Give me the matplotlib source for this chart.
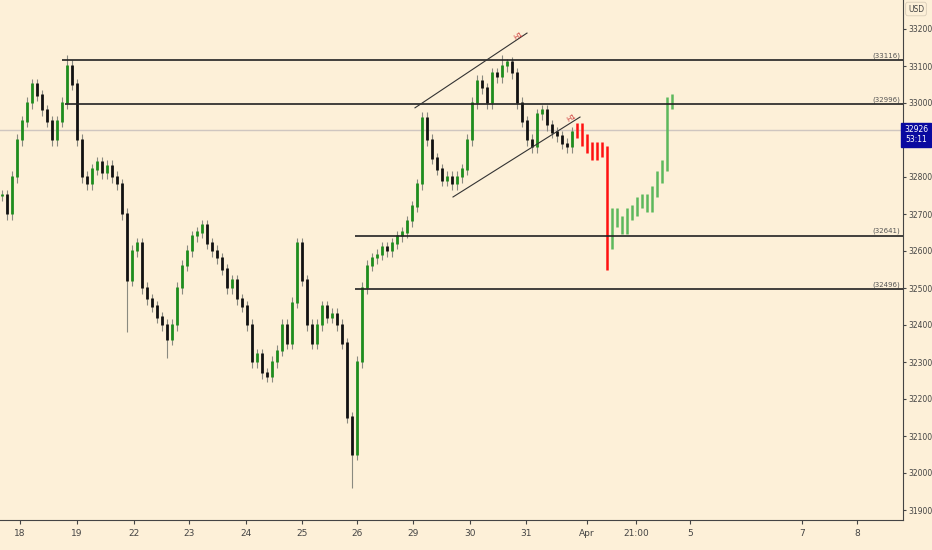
import numpy as np
import matplotlib
matplotlib.use("Agg")
import matplotlib.pyplot as plt

# ---------------------------
# Data
# ---------------------------
# candle closes, one every 5 px of chart width
closes_main = [32750, 32700, 32800, 32900, 32950, 33000, 33050, 33020, 32980, 32950,
               32900, 32950, 33000, 33100, 33050, 32900, 32800, 32780, 32820, 32840,
               32810, 32830, 32800, 32780, 32700, 32520, 32600, 32620, 32500, 32470,
               32450, 32420, 32400, 32360, 32400, 32500, 32560, 32600, 32640, 32650,
               32670, 32620, 32600, 32580, 32550, 32500, 32520, 32470, 32450, 32400,
               32300, 32320, 32270, 32260, 32300, 32330, 32400, 32350, 32460, 32620,
               32520, 32400, 32350, 32400, 32450, 32420, 32430, 32400, 32350, 32150,
               32050, 32300, 32500, 32560, 32580, 32590, 32610, 32600, 32620, 32640,
               32650, 32680, 32720, 32780, 32960, 32900, 32850, 32820, 32790, 32800,
               32780, 32800, 32820, 32900, 33000, 33060, 33040, 33000, 33080, 33070,
               33100, 33110, 33080, 33000, 32950, 32900, 32880, 32970, 32980, 32940,
               32920, 32910, 32890, 32880, 32920]
closes_red = [32930, 32900, 32880, 32860, 32880, 32870, 32620]
closes_green = [32700, 32680, 32660, 32700, 32710, 32730, 32740, 32720, 32760,
                32800, 32830, 33000, 33010]
spike_high = {13: 33130, 100: 33130, 101: 33120}
spike_low = {70: 31960, 25: 32380, 33: 32310}
red_low = 32550

levels = [33116, 32996, 32641, 32496]
level_start = [62, 65, 355, 355]
last_price = 32926
yticks = list(range(31900, 33201, 100))
xtick_pos = [20, 77, 134, 189, 246, 302, 357, 413, 470, 526, 587, 636, 690, 802, 857]
xtick_lab = ["18", "19", "22", "23", "24", "25", "26", "29", "30", "31", "Apr",
             "21:00", "5", "7", "8"]

BG = "#fdf0d8"
fig = plt.figure(figsize=(9.32, 5.5), dpi=100, facecolor=BG)
ax = fig.add_axes([0, 30 / 550, 903 / 932, 520 / 550], facecolor=BG)
ax.set_xlim(0, 903)
ax.set_ylim(33200 - 491 / 0.37, 33200 + 29 / 0.37)

allc = closes_main + closes_red + closes_green
x = np.arange(len(allc)) * 5 + 2
prev = allc[0]
nm, nr = len(closes_main), len(closes_red)
for i, c in enumerate(allc):
    o = prev
    hi = spike_high.get(i, max(o, c) + 15)
    lo = spike_low.get(i, min(o, c) - 15)
    if i < nm:
        ax.vlines(x[i], lo, hi, color="#8a8a80", lw=0.8, zorder=2)
        ax.vlines(x[i], min(o, c), max(o, c) + 3, color="#1e8c1e" if c >= o else "#111111",
                  lw=2.0, zorder=3)
    elif i < nm + nr:
        if i == nm + nr - 1:
            lo = red_low
        ax.vlines(x[i], lo, hi, color="#ff1010", lw=1.8, zorder=3)
    else:
        ax.vlines(x[i], lo, hi, color="#5cb85c", lw=1.8, zorder=3)
    prev = c

for lv, xs in zip(levels, level_start):
    ax.hlines(lv, xs, 903, color="#222222", lw=1.2, zorder=4)
    ax.text(900, lv + 4, f"({lv})", fontsize=5, color="#555555", ha="right", va="bottom")
ax.axhline(last_price, color="#cfc6c0", lw=1, zorder=1)

# channel
ax.plot([415, 527], [32987, 33189], color="#333333", lw=0.8, zorder=4)
ax.plot([453, 580], [32746, 32962], color="#333333", lw=0.8, zorder=4)
ax.text(519, 33170, "H1", color="#cc3333", fontsize=5, rotation=30, ha="center", zorder=5)
ax.text(572, 32950, "H1", color="#cc3333", fontsize=5, rotation=30, ha="center", zorder=5)

ax.yaxis.tick_right()
ax.set_yticks(yticks)
ax.set_yticklabels([str(v) for v in yticks], fontsize=5.5, color="#444444")
ax.set_xticks(xtick_pos)
ax.set_xticklabels(xtick_lab, fontsize=6.5, color="#444444")
ax.tick_params(axis="y", length=2, pad=2, color="#444444")
ax.tick_params(axis="x", length=3, color="#444444")
for s in ["top", "left"]:
    ax.spines[s].set_visible(False)
ax.spines["right"].set_color("#444444")
ax.spines["bottom"].set_color("#444444")

ax.text(916, 33200 + 20 / 0.37, "USD", fontsize=5.5, color="#444444",
        ha="center", va="center", clip_on=False,
        bbox=dict(boxstyle="round,pad=0.3", fc=BG, ec="#d8ccb8", lw=0.6))
ax.text(916, last_price - 12, "32926\n53:11", fontsize=5.5, color="white", ha="center",
        va="center", clip_on=False, linespacing=1.1, zorder=10,
        bbox=dict(boxstyle="square,pad=0.35", fc="#0a0aa0", ec="#0a0aa0"))

fig.savefig("out.png", dpi=100, facecolor=BG)
